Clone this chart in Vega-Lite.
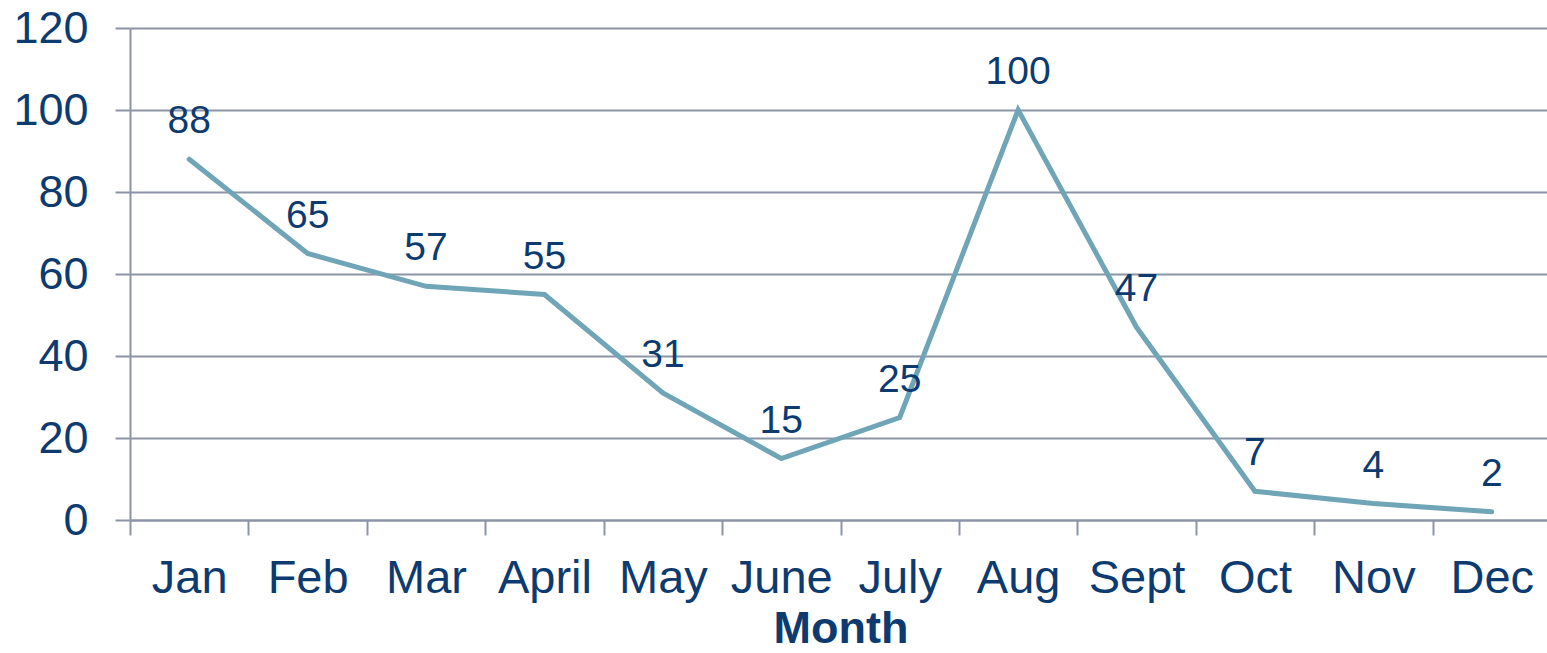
{
  "$schema": "https://vega.github.io/schema/vega-lite/v6.json",
  "autosize": {"type": "none"},
  "width": 1421,
  "height": 492,
  "padding": {"left": 130, "top": 28, "right": 0, "bottom": 133},
  "background": "white",
  "config": {
    "view": {"stroke": null},
    "font": "Liberation Sans"
  },
  "data": {
    "values": [
      {"Month": "Jan", "Value": 88},
      {"Month": "Feb", "Value": 65},
      {"Month": "Mar", "Value": 57},
      {"Month": "April", "Value": 55},
      {"Month": "May", "Value": 31},
      {"Month": "June", "Value": 15},
      {"Month": "July", "Value": 25},
      {"Month": "Aug", "Value": 100},
      {"Month": "Sept", "Value": 47},
      {"Month": "Oct", "Value": 7},
      {"Month": "Nov", "Value": 4},
      {"Month": "Dec", "Value": 2}
    ]
  },
  "encoding": {
    "x": {
      "field": "Month",
      "type": "ordinal",
      "sort": null,
      "scale": {"type": "band", "paddingInner": 0, "paddingOuter": 0},
      "axis": {
        "title": "Month",
        "titleFont": "Liberation Sans",
        "titleFontSize": 45,
        "titleFontWeight": "bold",
        "titleColor": "#0d3b70",
        "titlePadding": 5,
        "labelFont": "Liberation Sans",
        "labelFontSize": 47,
        "labelColor": "#0d3b70",
        "labelAngle": 0,
        "labelPadding": 20,
        "tickBand": "extent",
        "tickSize": 15,
        "tickColor": "#8c94a6",
        "tickWidth": 2,
        "domainColor": "#8c94a6",
        "domainWidth": 2,
        "grid": false
      }
    },
    "y": {
      "field": "Value",
      "type": "quantitative",
      "scale": {"domain": [0, 120], "nice": false},
      "axis": {
        "title": null,
        "values": [0, 20, 40, 60, 80, 100, 120],
        "labelFont": "Liberation Sans",
        "labelFontSize": 45,
        "labelColor": "#0d3b70",
        "labelPadding": 27,
        "tickSize": 15,
        "tickColor": "#8c94a6",
        "tickWidth": 2,
        "domainColor": "#8c94a6",
        "domainWidth": 2,
        "grid": true,
        "gridColor": "#8c94a6",
        "gridWidth": 2
      }
    }
  },
  "layer": [
    {
      "mark": {"type": "line", "color": "#6fa5b7", "strokeWidth": 5, "strokeCap": "round", "strokeJoin": "miter"}
    },
    {
      "mark": {"type": "text", "color": "#0d3b70", "fontSize": 39, "font": "Liberation Sans", "baseline": "middle", "dy": -38},
      "encoding": {"text": {"field": "Value", "type": "quantitative"}}
    }
  ]
}
